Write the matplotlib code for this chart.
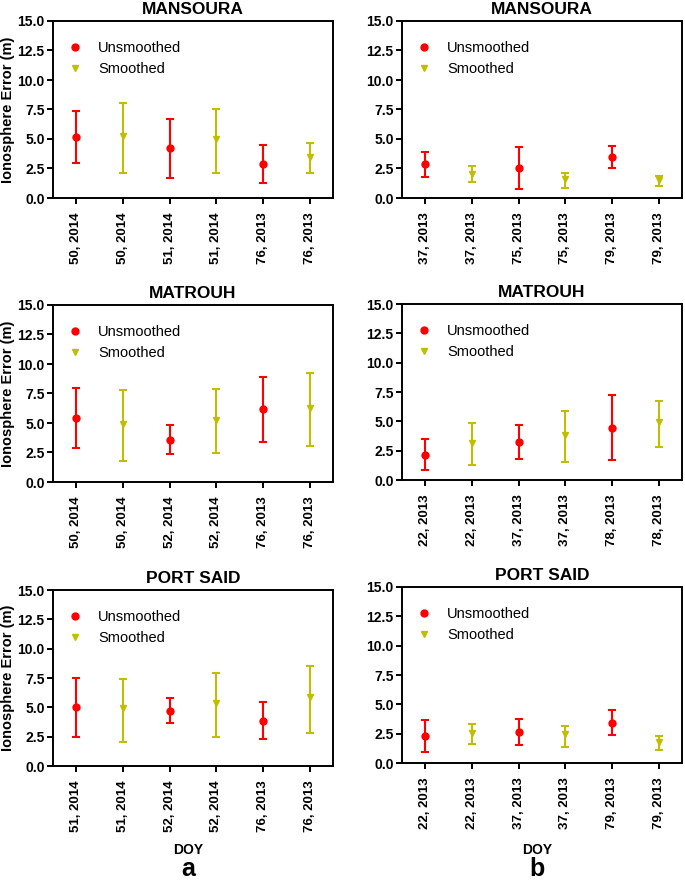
import matplotlib
matplotlib.use("Agg")
import matplotlib.pyplot as plt
from matplotlib.lines import Line2D
from matplotlib.ticker import FormatStrFormatter

plt.rcParams['font.family'] = ['Liberation Sans', 'DejaVu Sans']

RED = '#ff0000'
OLIVE = '#bfbf00'

# each panel: x labels, mean, lower end, upper end (m)
# column a
a_mansoura_days = ['50, 2014', '50, 2014', '51, 2014', '51, 2014', '76, 2013', '76, 2013']
a_mansoura_mean = [5.18, 5.25, 4.2, 4.96, 2.88, 3.5]
a_mansoura_low = [2.95, 2.13, 1.7, 2.13, 1.3, 2.13]
a_mansoura_high = [7.4, 8.05, 6.72, 7.54, 4.48, 4.68]

a_matrouh_days = ['50, 2014', '50, 2014', '52, 2014', '52, 2014', '76, 2013', '76, 2013']
a_matrouh_mean = [5.41, 4.9, 3.57, 5.29, 6.17, 6.28]
a_matrouh_low = [2.92, 1.75, 2.35, 2.46, 3.4, 3.03]
a_matrouh_high = [7.93, 7.78, 4.81, 7.87, 8.94, 9.23]

a_portsaid_days = ['51, 2014', '51, 2014', '52, 2014', '52, 2014', '76, 2013', '76, 2013']
a_portsaid_mean = [5.04, 4.92, 4.73, 5.35, 3.87, 5.86]
a_portsaid_low = [2.5, 2.02, 3.7, 2.48, 2.33, 2.85]
a_portsaid_high = [7.51, 7.43, 5.78, 7.91, 5.44, 8.54]

# column b
b_mansoura_days = ['37, 2013', '37, 2013', '75, 2013', '75, 2013', '79, 2013', '79, 2013']
b_mansoura_mean = [2.87, 2.07, 2.56, 1.59, 3.49, 1.5]
b_mansoura_low = [1.79, 1.36, 0.8, 0.85, 2.56, 1.02]
b_mansoura_high = [3.92, 2.7, 4.35, 2.16, 4.4, 1.88]

b_matrouh_days = ['22, 2013', '22, 2013', '37, 2013', '37, 2013', '78, 2013', '78, 2013']
b_matrouh_mean = [2.16, 3.19, 3.22, 3.87, 4.47, 4.92]
b_matrouh_low = [0.85, 1.25, 1.79, 1.54, 1.71, 2.82]
b_matrouh_high = [3.47, 4.84, 4.67, 5.84, 7.23, 6.77]

b_portsaid_days = ['22, 2013', '22, 2013', '37, 2013', '37, 2013', '79, 2013', '79, 2013']
b_portsaid_mean = [2.3, 2.59, 2.64, 2.44, 3.44, 1.79]
b_portsaid_low = [0.94, 1.62, 1.56, 1.39, 2.36, 1.14]
b_portsaid_high = [3.66, 3.35, 3.75, 3.18, 4.52, 2.3]

panels = [
    ('MANSOURA', a_mansoura_days, a_mansoura_mean, a_mansoura_low, a_mansoura_high, 0, 0),
    ('MATROUH', a_matrouh_days, a_matrouh_mean, a_matrouh_low, a_matrouh_high, 1, 0),
    ('PORT SAID', a_portsaid_days, a_portsaid_mean, a_portsaid_low, a_portsaid_high, 2, 0),
    ('MANSOURA', b_mansoura_days, b_mansoura_mean, b_mansoura_low, b_mansoura_high, 0, 1),
    ('MATROUH', b_matrouh_days, b_matrouh_mean, b_matrouh_low, b_matrouh_high, 1, 1),
    ('PORT SAID', b_portsaid_days, b_portsaid_mean, b_portsaid_low, b_portsaid_high, 2, 1),
]

W, H = 685, 880
fig = plt.figure(figsize=(W / 100, H / 100), dpi=100)

# axes boxes in pixels: (left, top, right, bottom)
boxes = {
    (0, 0): (53, 21, 333, 198), (0, 1): (402, 21, 682, 198),
    (1, 0): (53, 305, 333, 482), (1, 1): (402, 304, 682, 480),
    (2, 0): (53, 590, 333, 766), (2, 1): (402, 587, 682, 763),
}

for title, days, mean, low, high, r, c in panels:
    l, t, rr, b = boxes[(r, c)]
    ax = fig.add_axes([l / W, 1 - b / H, (rr - l) / W, (b - t) / H])
    for i in range(len(days)):
        unsm = i % 2 == 0
        col = RED if unsm else OLIVE
        ax.errorbar(i, mean[i], yerr=[[mean[i] - low[i]], [high[i] - mean[i]]],
                    fmt='o' if unsm else 'v', color=col, ms=5 if unsm else 5,
                    elinewidth=1.5, capsize=3, capthick=1.5)
    ax.set_xlim(-0.5, 5.5)
    ax.set_ylim(0, 15)
    ax.set_yticks([0, 2.5, 5, 7.5, 10, 12.5, 15])
    ax.yaxis.set_major_formatter(FormatStrFormatter('%.1f'))
    ax.set_xticks(range(len(days)))
    ax.set_xticklabels(days, rotation=90)
    for lab in ax.get_xticklabels():
        lab.set_fontweight('bold')
        lab.set_fontsize(9.5)
    for lab in ax.get_yticklabels():
        lab.set_fontweight('bold')
        lab.set_fontsize(10)
    for s in ax.spines.values():
        s.set_linewidth(1.4)
    ax.tick_params(width=1.4, length=4, pad=2)
    ax.tick_params(axis='x', pad=6)
    ax.set_title(title, fontweight='bold', fontsize=12.5, pad=5)
    if c == 0:
        ax.set_ylabel('Ionosphere Error (m)', fontweight='bold', fontsize=10.5, labelpad=2)
    handles = [Line2D([], [], ls='none', marker='o', color=RED, ms=5),
               Line2D([], [], ls='none', marker='v', color=OLIVE, ms=5)]
    ax.legend(handles, ['Unsmoothed', 'Smoothed'], loc='upper left',
              bbox_to_anchor=(0.005, 0.96), frameon=False, fontsize=10.5,
              handlelength=1.0, handletextpad=1.1, labelspacing=0.45)

    if r == 2:
        cx = (l + rr) / 2 / W
        fig.text(cx - 5 / W, 1 - 850 / H, 'DOY', ha='center', va='center',
                 fontweight='bold', fontsize=10)
        fig.text(cx - 5 / W, 1 - 869 / H, 'a' if c == 0 else 'b', ha='center',
                 va='center', fontweight='bold', fontsize=18)

fig.savefig('out.png', dpi=100)
